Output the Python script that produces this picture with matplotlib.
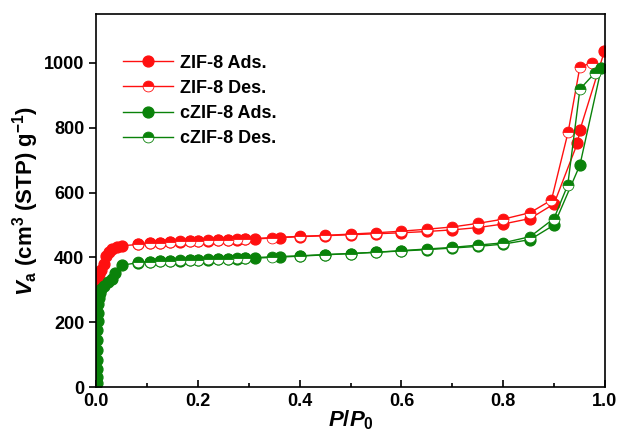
import matplotlib.pyplot as plt
import numpy as np
from matplotlib.ticker import MultipleLocator

plt.rcParams['font.family'] = ['Liberation Sans', 'DejaVu Sans']
plt.rcParams['font.weight'] = 'bold'
plt.rcParams['axes.labelweight'] = 'bold'
plt.rcParams['mathtext.fontset'] = 'custom'
plt.rcParams['mathtext.rm'] = 'Liberation Sans:bold'
plt.rcParams['mathtext.it'] = 'Liberation Sans:bold:italic'

# ZIF-8 adsorption / desorption
zif_ads_x = [0.0005, 0.001, 0.003, 0.006, 0.01, 0.015, 0.02, 0.025, 0.03, 0.04, 0.05,
             0.083, 0.106, 0.126, 0.145, 0.165, 0.185, 0.201, 0.22, 0.24, 0.259, 0.276,
             0.293, 0.312, 0.361, 0.40, 0.45, 0.50, 0.55, 0.60, 0.65, 0.70, 0.75,
             0.80, 0.853, 0.90, 0.946, 0.951, 0.999]
zif_ads_y = [325, 332, 340, 350, 362, 380, 405, 418, 425, 432, 436,
             440, 443, 445, 447, 449, 450, 451, 452, 453, 454, 455,
             456, 457, 461, 464, 467, 470, 473, 476, 480, 485, 492,
             503, 520, 565, 752, 793, 1035]
zif_des_x = [0.974, 0.951, 0.928, 0.895, 0.853, 0.80, 0.75, 0.70, 0.65, 0.60, 0.55,
             0.50, 0.45, 0.40, 0.345, 0.293, 0.276, 0.259, 0.24, 0.22, 0.201, 0.185,
             0.165, 0.145, 0.126, 0.106, 0.083]
zif_des_y = [999, 988, 788, 577, 538, 518, 505, 494, 487, 481, 476,
             472, 468, 465, 461, 457, 456, 455, 454, 453, 452, 451,
             450, 448, 446, 444, 442]

# cZIF-8 adsorption / desorption
czif_ads_x = [0.0005, 0.0006, 0.0008, 0.001, 0.0012, 0.0015, 0.002, 0.0025, 0.003,
              0.004, 0.005, 0.007, 0.01, 0.015, 0.024, 0.03, 0.037, 0.05,
              0.083, 0.106, 0.126, 0.145, 0.165, 0.185, 0.201, 0.22, 0.24, 0.259, 0.276,
              0.293, 0.312, 0.361, 0.40, 0.45, 0.50, 0.55, 0.60, 0.65, 0.70, 0.75,
              0.80, 0.853, 0.90, 0.951, 0.993]
czif_ads_y = [12, 30, 55, 85, 115, 145, 175, 205, 230,
              255, 275, 290, 302, 312, 325, 335, 351, 376,
              384, 386, 388, 389, 390, 391, 392, 393, 394, 395, 396,
              397, 398, 401, 404, 408, 412, 416, 420, 424, 429, 434,
              441, 455, 500, 685, 983]
czif_des_x = [0.98, 0.951, 0.927, 0.90, 0.853, 0.80, 0.75, 0.70, 0.65, 0.60, 0.55,
              0.50, 0.45, 0.40, 0.345, 0.293, 0.276, 0.259, 0.24, 0.22, 0.201, 0.185,
              0.165, 0.145, 0.126, 0.106, 0.083]
czif_des_y = [968, 919, 623, 520, 464, 445, 438, 431, 426, 421, 416,
              412, 409, 405, 402, 398, 397, 396, 395, 394, 393, 392,
              391, 390, 389, 387, 385]

red = '#ff1010'
green = '#0a820a'

fig = plt.figure(figsize=(6.21, 4.43), dpi=100)
ax = fig.add_axes([0.155, 0.126, 0.819, 0.842])

ms = 7.8
ax.plot(zif_ads_x, zif_ads_y, '-o', color=red, lw=1, ms=ms, label='ZIF-8 Ads.')
ax.plot(zif_des_x, zif_des_y, '-o', color=red, lw=1, ms=ms, fillstyle='top',
        markerfacecoloralt='white', markeredgewidth=0.6, label='ZIF-8 Des.')
ax.plot(czif_ads_x, czif_ads_y, '-o', color=green, lw=1, ms=ms, label='cZIF-8 Ads.')
ax.plot(czif_des_x, czif_des_y, '-o', color=green, lw=1, ms=ms, fillstyle='top',
        markerfacecoloralt='white', markeredgewidth=0.6, label='cZIF-8 Des.')

ax.set_xlim(0, 1.0)
ax.set_ylim(0, 1150)
ax.xaxis.set_major_locator(MultipleLocator(0.2))
ax.xaxis.set_minor_locator(MultipleLocator(0.1))
ax.yaxis.set_major_locator(MultipleLocator(200))
ax.tick_params(axis='x', which='major', direction='in', length=5, width=1.2, labelsize=13, pad=4)
ax.tick_params(axis='x', which='minor', direction='in', length=3, width=1.2)
ax.tick_params(axis='y', which='major', direction='out', length=5, width=1.2, labelsize=13)
for s in ax.spines.values():
    s.set_linewidth(1.2)

ax.set_xlabel(r'$\mathit{P/P}_\mathit{0}$', fontsize=16, labelpad=-1)
ax.set_ylabel(r'$\mathit{V}_\mathrm{a}$ (cm$^3$ (STP) g$^{-1}$)', fontsize=16, labelpad=2)

ax.legend(loc='upper left', bbox_to_anchor=(0.02, 0.935), frameon=False, fontsize=13,
          handlelength=2.8, handletextpad=0.4, labelspacing=0.45)

plt.savefig('out.png', dpi=100)
